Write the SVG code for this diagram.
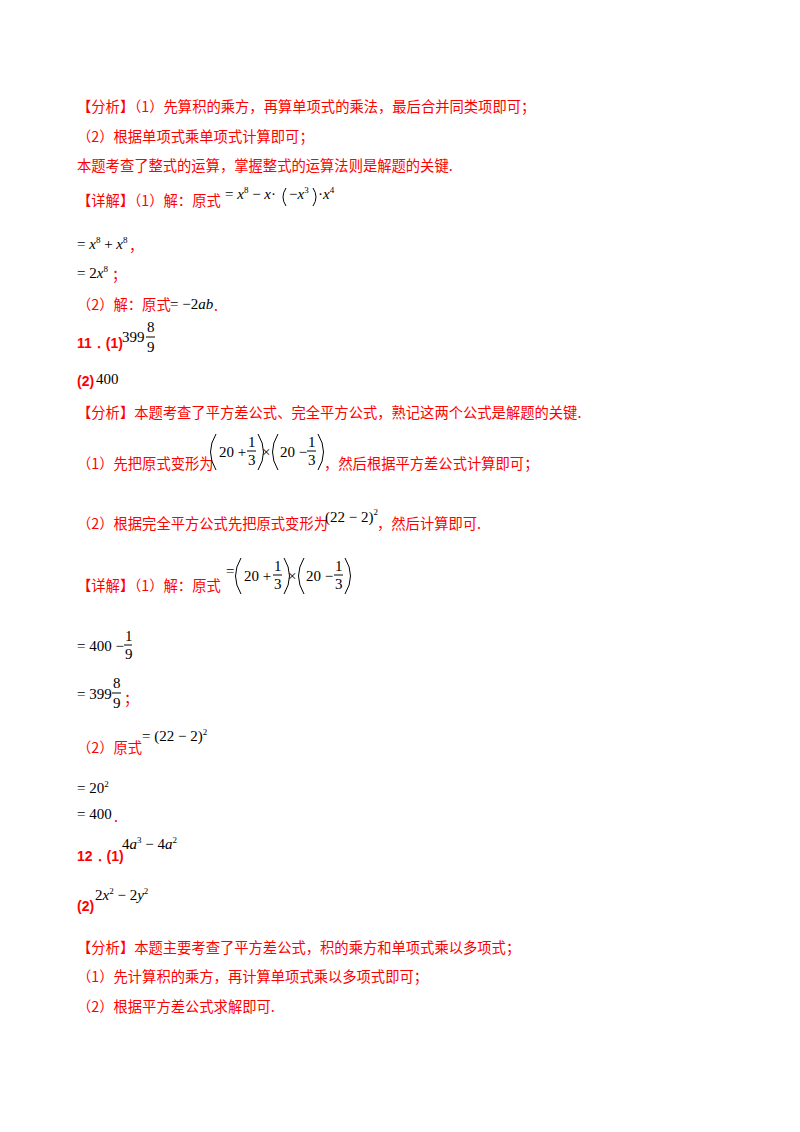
<svg xmlns="http://www.w3.org/2000/svg" width="800" height="1132" viewBox="0 0 800 1132">
<style>
.r{fill:#ff0000;font-family:"Noto Sans CJK SC","Liberation Sans",sans-serif;font-size:14.3px}
.rb{fill:#ff0000;font-family:"Liberation Sans",sans-serif;font-size:14px;font-weight:bold}
.m{fill:#000;font-family:"Liberation Serif",serif;font-size:15px}
.i{font-style:italic}
.s{font-size:9px}
.p{fill:none;stroke:#000;stroke-width:1}
</style>
<rect width="800" height="1132" fill="#fff"/>
<text class="r" x="77" y="112">【分析】（1）先算积的乘方，再算单项式的乘法，最后合并同类项即可；</text>
<text class="r" x="77" y="142">（2）根据单项式乘单项式计算即可；</text>
<text class="r" x="77" y="171">本题考查了整式的运算，掌握整式的运算法则是解题的关键.</text>
<text class="r" x="77" y="206">【详解】（1）解：原式</text>
<text class="m" x="225" y="199">= <tspan class="i">x</tspan><tspan class="s" dy="-6">8</tspan><tspan dy="6"> − </tspan><tspan class="i">x</tspan>·</text>
<path class="p" d="M286,188 Q280,197 286,206"/>
<text class="m" x="289" y="199">−<tspan class="i">x</tspan><tspan class="s" dy="-6">3</tspan></text>
<path class="p" d="M313,188 Q319,197 313,206"/>
<text class="m" x="318" y="199">·<tspan class="i">x</tspan><tspan class="s" dy="-6">4</tspan></text>
<text class="m" x="77" y="249">= <tspan class="i">x</tspan><tspan class="s" dy="-6">8</tspan><tspan dy="6"> + </tspan><tspan class="i">x</tspan><tspan class="s" dy="-6">8</tspan></text>
<text class="r" x="129" y="251">，</text>
<text class="m" x="77" y="278">= 2<tspan class="i">x</tspan><tspan class="s" dy="-6">8</tspan></text>
<text class="r" x="112" y="280">；</text>
<text class="r" x="77" y="310">（2）解：原式</text>
<text class="m" x="170" y="309">= −2<tspan class="i">ab</tspan></text>
<text class="r" x="214" y="311">.</text>

<text class="rb" x="77" y="348">11．(1)</text>
<text class="m" x="122" y="342">399</text>
<text class="m" x="147" y="332" font-size="13">8</text>
<line x1="146" y1="337" x2="155" y2="337" stroke="#000"/>
<text class="m" x="147" y="352" font-size="13">9</text>
<text class="rb" x="77" y="386">(2)</text>
<text class="m" x="96" y="384">400</text>

<text class="r" x="77" y="418">【分析】本题考查了平方差公式、完全平方公式，熟记这两个公式是解题的关键.</text>
<text class="r" x="77" y="469">（1）先把原式变形为</text>
<path class="p" d="M216,434 Q205,452 216,470"/>
<text class="m" x="219" y="457">20 + </text>
<text class="m" x="248" y="447" font-size="12">1</text>
<line x1="247" y1="451" x2="256" y2="451" stroke="#000"/>
<text class="m" x="248" y="465" font-size="12">3</text>
<path class="p" d="M258,434 Q269,452 258,470"/>
<text class="m" x="262" y="457">×</text>
<path class="p" d="M278,434 Q267,452 278,470"/>
<text class="m" x="280" y="457">20 − </text>
<text class="m" x="308" y="447" font-size="12">1</text>
<line x1="307" y1="451" x2="316" y2="451" stroke="#000"/>
<text class="m" x="308" y="465" font-size="12">3</text>
<path class="p" d="M318,434 Q329,452 318,470"/>
<text class="r" x="324" y="469">，然后根据平方差公式计算即可；</text>

<text class="r" x="77" y="529">（2）根据完全平方公式先把原式变形为</text>
<text class="m" x="325" y="522">(22 − 2)<tspan class="s" dy="-7">2</tspan></text>
<text class="r" x="377" y="529">，然后计算即可.</text>

<text class="r" x="77" y="591">【详解】（1）解：原式</text>
<text class="m" x="226" y="576">=</text>
<path class="p" d="M241,558 Q230,576 241,594"/>
<text class="m" x="244" y="581">20 + </text>
<text class="m" x="274" y="571" font-size="12">1</text>
<line x1="273" y1="575" x2="282" y2="575" stroke="#000"/>
<text class="m" x="274" y="589" font-size="12">3</text>
<path class="p" d="M284,558 Q295,576 284,594"/>
<text class="m" x="288" y="581">×</text>
<path class="p" d="M304,558 Q293,576 304,594"/>
<text class="m" x="306" y="581">20 − </text>
<text class="m" x="335" y="571" font-size="12">1</text>
<line x1="334" y1="575" x2="343" y2="575" stroke="#000"/>
<text class="m" x="335" y="589" font-size="12">3</text>
<path class="p" d="M345,558 Q356,576 345,594"/>

<text class="m" x="77" y="651">= 400 − </text>
<text class="m" x="125" y="641" font-size="12">1</text>
<line x1="124" y1="645" x2="132" y2="645" stroke="#000"/>
<text class="m" x="125" y="659" font-size="12">9</text>
<text class="m" x="77" y="699">= 399</text>
<text class="m" x="113" y="688" font-size="13">8</text>
<line x1="112" y1="693" x2="121" y2="693" stroke="#000"/>
<text class="m" x="113" y="708" font-size="13">9</text>
<text class="r" x="124" y="704">；</text>

<text class="r" x="77" y="753">（2）原式</text>
<text class="m" x="142" y="741" font-size="13">= (22 − 2)<tspan class="s" dy="-6">2</tspan></text>
<text class="m" x="77" y="793" font-size="13">= 20<tspan class="s" dy="-6">2</tspan></text>
<text class="m" x="77" y="819" font-size="13">= 400</text>
<text class="r" x="114" y="822">.</text>

<text class="rb" x="77" y="861">12．(1)</text>
<text class="m" x="122" y="849" font-size="13">4<tspan class="i">a</tspan><tspan class="s" dy="-6">3</tspan><tspan dy="6"> − 4</tspan><tspan class="i">a</tspan><tspan class="s" dy="-6">2</tspan></text>
<text class="rb" x="77" y="911">(2)</text>
<text class="m" x="95" y="900" font-size="13">2<tspan class="i">x</tspan><tspan class="s" dy="-6">2</tspan><tspan dy="6"> − 2</tspan><tspan class="i">y</tspan><tspan class="s" dy="-6">2</tspan></text>

<text class="r" x="77" y="953">【分析】本题主要考查了平方差公式，积的乘方和单项式乘以多项式；</text>
<text class="r" x="77" y="982">（1）先计算积的乘方，再计算单项式乘以多项式即可；</text>
<text class="r" x="77" y="1012">（2）根据平方差公式求解即可.</text>
</svg>
